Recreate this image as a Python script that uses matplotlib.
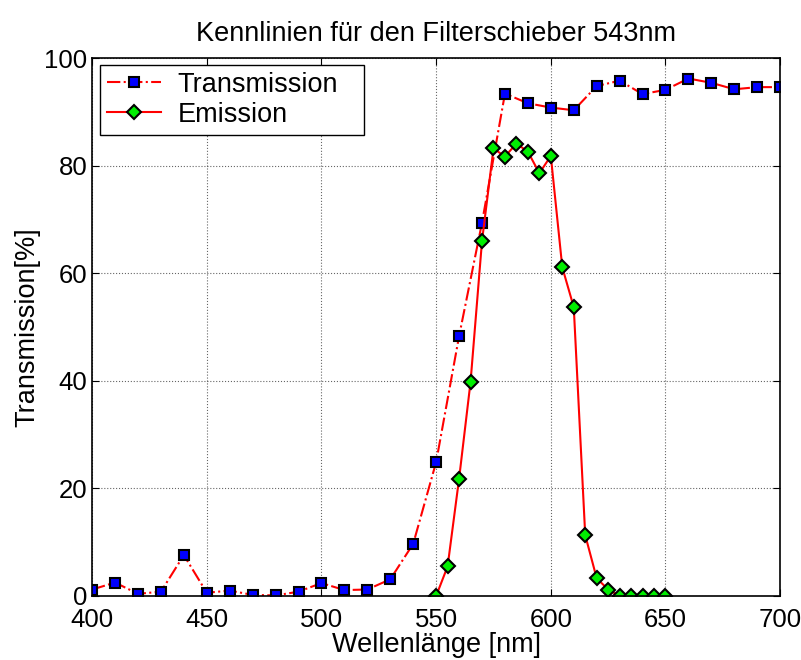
import numpy as np
import matplotlib
matplotlib.use('Agg')
import matplotlib.pyplot as plt

plt.rcParams['font.family'] = ['Liberation Sans', 'DejaVu Sans']

# Transmission measured every 10 nm
wl_trans = [400, 410, 420, 430, 440, 450, 460, 470, 480, 490, 500, 510, 520, 530,
            540, 550, 560, 570, 580, 590, 600, 610, 620, 630, 640, 650, 660, 670,
            680, 690, 700]
trans = [1.2, 2.5, 0.4, 0.8, 7.6, 0.6, 1.0, 0.2, 0.1, 0.8, 2.4, 1.1, 1.2, 3.1,
         9.7, 24.9, 48.3, 69.4, 93.4, 91.6, 90.8, 90.3, 94.8, 95.8, 93.3, 94.1,
         96.2, 95.4, 94.2, 94.6, 94.6]

# Emission measured every 5 nm
wl_emis = [550, 555, 560, 565, 570, 575, 580, 585, 590, 595, 600, 605, 610, 615,
           620, 625, 630, 635, 640, 645, 650]
emis = [0.0, 5.5, 21.8, 39.8, 66.0, 83.2, 81.7, 84.1, 82.6, 78.6, 81.8, 61.1,
        53.7, 11.3, 3.3, 1.2, 0.0, 0.0, 0.0, 0.0, 0.0]

fs = 19.5

fig = plt.figure(figsize=(8.01, 6.6), dpi=100)
ax = fig.add_axes([0.115, 0.097, 0.859, 0.815])

ax.plot(wl_trans, trans, color='red', linestyle='-.', linewidth=1.5,
        marker='s', markersize=7, markerfacecolor='blue',
        markeredgecolor='black', markeredgewidth=1.5, label='Transmission')
ax.plot(wl_emis, emis, color='red', linestyle='-', linewidth=1.5,
        marker='D', markersize=7, markerfacecolor='#00ee00',
        markeredgecolor='black', markeredgewidth=1.5, label='Emission')

ax.set_xlim(400, 700)
ax.set_ylim(0, 100)
ax.set_xticks(np.arange(400, 701, 50))
ax.set_yticks(np.arange(0, 101, 20))
ax.tick_params(direction='in', top=True, right=True, labelsize=18.5, length=5)
ax.tick_params(axis='x', pad=9)
ax.tick_params(axis='y', pad=3.5)
ax.grid(True, linestyle=':', color='black', linewidth=0.8, alpha=0.6)
for s in ax.spines.values():
    s.set_linewidth(1.2)

ax.set_title('Kennlinien für den Filterschieber 543nm', fontsize=fs, pad=12)
ax.set_xlabel('Wellenlänge [nm]', fontsize=fs, labelpad=0)
ax.set_ylabel('Transmission[%]', fontsize=fs, labelpad=3)

# legend box stretched to the width seen in the original
leg = ax.legend(loc='upper left', bbox_to_anchor=(0.0116, 0.987, 0.384, 0),
                mode='expand', fontsize=fs, fancybox=False, framealpha=1,
                edgecolor='black', borderaxespad=0, handlelength=2.0,
                handletextpad=0.6, labelspacing=0.15, borderpad=0.25)
leg.get_frame().set_linewidth(1.0)

fig.savefig('out.png', dpi=100)
